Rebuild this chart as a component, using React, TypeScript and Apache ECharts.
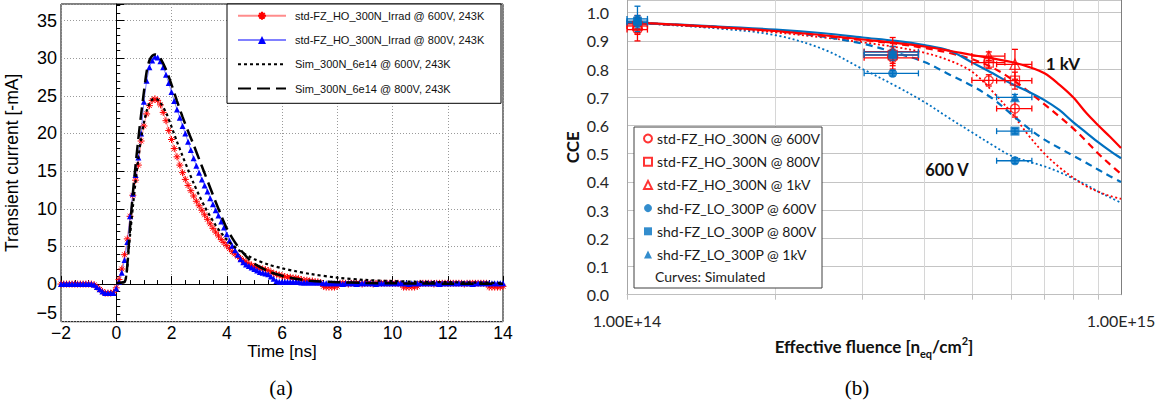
import React, { useEffect, useRef } from "react";
import * as echarts from "echarts";

// ---------- Panel (a): transient current ----------
const timeMeas = [
  -2.0, -1.9, -1.8, -1.7, -1.6, -1.5, -1.4, -1.3, -1.2, -1.1,
  -1.0, -0.9, -0.8, -0.7, -0.6, -0.5, -0.4, -0.3, -0.2, -0.1,
  0.0, 0.1, 0.2, 0.3, 0.4, 0.5, 0.6, 0.7, 0.8, 0.9,
  1.0, 1.1, 1.2, 1.3, 1.4, 1.5, 1.6, 1.7, 1.8, 1.9,
  2.0, 2.1, 2.2, 2.3, 2.4, 2.5, 2.6, 2.7, 2.8, 2.9,
  3.0, 3.1, 3.2, 3.3, 3.4, 3.5, 3.6, 3.7, 3.8, 3.9,
  4.0, 4.1, 4.2, 4.3, 4.4, 4.5, 4.6, 4.7, 4.8, 4.9,
  5.0, 5.1, 5.2, 5.3, 5.4, 5.5, 5.6, 5.7, 5.8, 5.9,
  6.0, 6.1, 6.2, 6.3, 6.4, 6.5, 6.6, 6.7, 6.8, 6.9,
  7.0, 7.1, 7.2, 7.3, 7.4, 7.5, 7.6, 7.7, 7.8, 7.9,
  8.0, 8.1, 8.2, 8.3, 8.4, 8.5, 8.6, 8.7, 8.8, 8.9,
  9.0, 9.1, 9.2, 9.3, 9.4, 9.5, 9.6, 9.7, 9.8, 9.9,
  10.0, 10.1, 10.2, 10.3, 10.4, 10.5, 10.6, 10.7, 10.8, 10.9,
  11.0, 11.1, 11.2, 11.3, 11.4, 11.5, 11.6, 11.7, 11.8, 11.9,
  12.0, 12.1, 12.2, 12.3, 12.4, 12.5, 12.6, 12.7, 12.8, 12.9,
  13.0, 13.1, 13.2, 13.3, 13.4, 13.5, 13.6, 13.7, 13.8, 13.9,
  14.0,
];

const current600 = [
  0, 0, 0, 0, 0, 0, 0, 0, 0, 0,
  0, 0, -0.1, -0.4, -0.7, -1.0, -1.2, -1.2, -1.2, -1.1,
  -0.5, 0.6, 2.0, 3.9, 6.0, 9.0, 11.8, 13.8, 15.8, 19.0,
  21.0, 22.6, 23.7, 24.4, 24.6, 24.4, 23.8, 22.8, 21.7, 20.4,
  19.2, 18.0, 16.9, 15.8, 14.8, 13.9, 13.1, 12.4, 11.7, 11.0,
  10.4, 9.8, 9.2, 8.6, 8.0, 7.4, 6.9, 6.4, 5.9, 5.5,
  5.1, 4.7, 4.3, 4.0, 3.7, 3.4, 3.1, 2.9, 2.7, 2.5,
  2.3, 2.2, 2.1, 2.0, 1.9, 1.8, 1.6, 1.4, 1.3, 1.2,
  1.1, 1.0, 0.9, 0.9, 0.8, 0.8, 0.7, 0.6, 0.5, 0.5,
  0.4, 0.4, 0.3, 0.3, 0.2, -0.3, -0.4, -0.4, -0.4, -0.4,
  -0.3, 0.1, 0.1, 0.1, 0.0, 0.1, 0.1, 0.1, 0.1, 0.0,
  0.1, 0.1, 0.1, 0.0, 0.1, 0.1, 0.1, 0.1, 0.1, 0.1,
  0.1, 0.1, 0.1, 0.0, -0.4, -0.4, -0.4, -0.4, -0.4, -0.3,
  0.1, 0.1, 0.1, 0.1, 0.1, 0.0, 0.1, 0.1, 0.1, 0.1,
  0.1, 0.1, 0.1, 0.1, 0.1, 0.1, 0.0, 0.1, 0.1, 0.1,
  0.1, 0.1, 0.1, 0.1, 0.1, -0.4, -0.4, -0.4, -0.4, -0.4,
  -0.3,
];

const current800 = [
  0, 0, 0, 0, 0, 0, 0, 0, 0, 0,
  0, 0, -0.1, -0.4, -0.7, -1.0, -1.2, -1.2, -1.2, -1.2,
  -0.6, 0.3, 1.5, 3.2, 5.6, 9.0, 12.0, 14.5, 16.8, 20.0,
  24.2, 27.0, 28.8, 29.7, 30.2, 30.1, 29.6, 28.8, 27.8, 26.7,
  25.5, 24.3, 23.2, 22.1, 21.0, 20.0, 18.9, 17.8, 16.7, 15.7,
  14.8, 13.9, 13.1, 12.3, 11.4, 10.6, 9.8, 9.1, 8.3, 7.5,
  6.6, 5.8, 5.1, 4.5, 3.9, 3.3, 2.9, 2.6, 2.4, 2.2,
  2.0, 1.8, 1.6, 1.5, 1.4, 1.3, 1.0, 0.7, 0.4, 0.3,
  0.3, 0.3, 0.3, 0.3, 0.3, 0.3, 0.3, 0.2, 0.2, 0.2,
  0.2, 0.2, 0.2, 0.2, 0.2, 0.1, 0.1, 0.1, 0.1, 0.1,
  0.1, 0.1, 0.0, 0.1, 0.1, 0.1, 0.1, 0.0, 0.1, 0.1,
  0.1, 0.1, 0.1, 0.1, 0.0, 0.1, 0.1, 0.1, 0.1, 0.1,
  0.1, 0.1, 0.1, 0.1, 0.1, 0.1, 0.0, 0.1, 0.1, 0.1,
  0.1, 0.1, 0.1, 0.1, 0.1, 0.1, 0.1, 0.0, 0.1, 0.1,
  0.1, 0.1, 0.1, 0.1, 0.1, 0.1, 0.1, 0.1, 0.1, 0.0,
  0.1, 0.1, 0.1, 0.1, 0.1, 0.1, 0.1, 0.1, 0.1, 0.1,
  0.1,
];

const timeSim = [
  0, 0.1, 0.2, 0.3, 0.35, 0.4, 0.45, 0.5, 0.6, 0.7, 0.8, 0.9, 1.0, 1.1, 1.2, 1.3, 1.4,
  1.5, 1.6, 1.8, 2.0, 2.2, 2.4, 2.6, 2.8, 3.0, 3.2, 3.4, 3.6, 3.8, 4.0, 4.2, 4.4, 4.6,
  4.8, 5.0, 5.5, 6.0, 6.5, 7.0, 8.0, 9.0, 10, 11, 12, 13, 14,
];
const sim600 = [
  0.1, 0.15, 0.2, 0.3, 0.8, 2.2, 4.5, 6.5, 10.2, 13.6, 16.7, 19.3, 21.4, 23.0, 24.0, 24.5, 24.6,
  24.5, 24.1, 22.8, 20.9, 18.9, 17.0, 15.2, 13.4, 11.8, 10.3, 9.0, 7.8, 6.8, 5.9, 5.2, 4.6, 4.1,
  3.7, 3.3, 2.6, 2.1, 1.7, 1.35, 0.85, 0.55, 0.4, 0.3, 0.25, 0.2, 0.15,
];
const sim800 = [
  0.1, 0.15, 0.2, 0.3, 0.8, 2.5, 5.0, 7.5, 12.0, 15.8, 19.3, 22.5, 25.5, 28.2, 29.7, 30.3, 30.5,
  30.4, 30.0, 28.5, 26.5, 24.3, 22.2, 20.3, 18.5, 16.6, 14.7, 12.8, 10.9, 9.1, 7.4, 6.1, 5.0, 4.1,
  3.3, 2.7, 1.7, 1.1, 0.7, 0.45, 0.25, 0.15, 0.1, 0.08, 0.05, 0.05, 0.05,
];

const namesA = [
  "std-FZ_HO_300N_Irrad @ 600V, 243K",
  "std-FZ_HO_300N_Irrad @ 800V, 243K",
  "Sim_300N_6e14 @ 600V, 243K",
  "Sim_300N_6e14 @ 800V, 243K",
];

// ---------- Panel (b): CCE vs fluence ----------
const fluenceStd = [1.05e14, 3.45e14, 5.4e14, 6.1e14];
const fluenceStdLo = [1.0e14, 3.02e14, 4.99e14, 5.6e14];
const fluenceStdHi = [1.1e14, 3.89e14, 5.82e14, 6.6e14];
const cceStd600 = [0.94, 0.84, 0.76, 0.66];
const errStd600 = [0.04, 0.04, 0.02, 0.03];
const cceStd800 = [0.953, 0.85, 0.823, 0.759];
const errStd800 = [0.03, 0.03, 0.02, 0.03];
const cceStd1k = [0.96, 0.862, 0.846, 0.817];
const errStd1k = [0.03, 0.05, 0.015, 0.053];

const fluenceShd = [1.05e14, 3.45e14, 6.1e14];
const fluenceShdLo = [1.0e14, 3.02e14, 5.6e14];
const fluenceShdHi = [1.1e14, 3.89e14, 6.6e14];
const cceShd600 = [0.965, 0.785, 0.475];
const errShd600 = [0.02, 0.01, 0.01];
const cceShd800 = [0.97, 0.85, 0.58];
const errShd800 = [0.02, 0.02, 0.01];
const cceShd1k = [0.978, 0.86, 0.7];
const errShd1k = [0.045, 0.02, 0.01];

const fluenceSim = [
  1e14, 1.5e14, 2e14, 2.5e14, 3e14, 3.5e14, 4e14, 4.5e14, 5e14, 5.5e14,
  6e14, 6.5e14, 7e14, 7.5e14, 8e14, 8.5e14, 9e14, 9.5e14, 1e15,
];
const simStd1k = [0.967, 0.95, 0.935, 0.92, 0.905, 0.893, 0.88, 0.865, 0.85, 0.838, 0.825, 0.808, 0.785, 0.745, 0.7, 0.645, 0.6, 0.56, 0.52];
const simShd1k = [0.965, 0.952, 0.94, 0.927, 0.912, 0.9, 0.885, 0.865, 0.823, 0.785, 0.748, 0.72, 0.69, 0.655, 0.612, 0.575, 0.54, 0.51, 0.484];
const simStd800 = [0.965, 0.95, 0.935, 0.918, 0.903, 0.89, 0.875, 0.857, 0.835, 0.805, 0.765, 0.72, 0.675, 0.632, 0.59, 0.545, 0.5, 0.462, 0.428];
const simShd800 = [0.965, 0.95, 0.935, 0.915, 0.89, 0.858, 0.825, 0.78, 0.74, 0.695, 0.64, 0.59, 0.55, 0.52, 0.493, 0.468, 0.443, 0.42, 0.4];
const simStd600 = [0.965, 0.948, 0.93, 0.912, 0.895, 0.878, 0.858, 0.83, 0.79, 0.72, 0.645, 0.565, 0.5, 0.452, 0.415, 0.385, 0.365, 0.35, 0.34];
const simShd600 = [0.965, 0.945, 0.92, 0.87, 0.8, 0.74, 0.683, 0.625, 0.575, 0.53, 0.492, 0.472, 0.455, 0.435, 0.412, 0.39, 0.365, 0.345, 0.326];

const fluenceGridValues = [1e14, 2e14, 3e14, 4e14, 5e14, 6e14, 7e14, 8e14, 9e14, 1e15];

const namesB = [
  "std-FZ_HO_300N @ 600V",
  "std-FZ_HO_300N @ 800V",
  "std-FZ_HO_300N @ 1kV",
  "shd-FZ_LO_300P @ 600V",
  "shd-FZ_LO_300P @ 800V",
  "shd-FZ_LO_300P @ 1kV",
];

const RED = "#ff0000";
const BLUE = "#0070c0";
const ASTERISK = "path://M5,0L5,10M0,5L10,5M1.6,1.6L8.4,8.4M1.6,8.4L8.4,1.6";

function zip(xs: number[], ys: number[]) {
  return xs.map((x, i) => [x, ys[i]]);
}

function errRows(xs: number[], lo: number[], hi: number[], ys: number[], e: number[]) {
  return xs.map((x, i) => [x, ys[i], lo[i], hi[i], ys[i] - e[i], ys[i] + e[i]]);
}

function errorBarSeries(color: string, data: number[][]) {
  return {
    type: "custom",
    xAxisIndex: 1,
    yAxisIndex: 1,
    z: 3,
    silent: true,
    encode: { x: [0, 2, 3], y: [1, 4, 5] },
    data,
    renderItem: (_params: any, api: any) => {
      const x = api.value(0);
      const y = api.value(1);
      const c = api.coord([x, y]);
      const l = api.coord([api.value(2), y]);
      const r = api.coord([api.value(3), y]);
      const b = api.coord([x, api.value(4)]);
      const t = api.coord([x, api.value(5)]);
      const style = { stroke: color, lineWidth: 1.3 };
      const cap = 3;
      return {
        type: "group",
        children: [
          { type: "line", shape: { x1: l[0], y1: c[1], x2: r[0], y2: c[1] }, style },
          { type: "line", shape: { x1: l[0], y1: c[1] - cap, x2: l[0], y2: c[1] + cap }, style },
          { type: "line", shape: { x1: r[0], y1: c[1] - cap, x2: r[0], y2: c[1] + cap }, style },
          { type: "line", shape: { x1: c[0], y1: t[1], x2: c[0], y2: b[1] }, style },
          { type: "line", shape: { x1: c[0] - cap, y1: t[1], x2: c[0] + cap, y2: t[1] }, style },
          { type: "line", shape: { x1: c[0] - cap, y1: b[1], x2: c[0] + cap, y2: b[1] }, style },
        ],
      };
    },
  };
}

function simLine(data: number[], color: string, kind: "solid" | "dashed" | "dotted") {
  return {
    type: "line",
    xAxisIndex: 1,
    yAxisIndex: 1,
    data: zip(fluenceSim, data),
    symbol: "none",
    showSymbol: false,
    smooth: 0.35,
    silent: true,
    z: 2,
    lineStyle: {
      color,
      width: kind === "dotted" ? 1.8 : 2.2,
      type: kind === "solid" ? "solid" : kind === "dashed" ? [7, 5] : [2, 2.5],
    },
  };
}

function scatterB(name: string, xs: number[], ys: number[], symbol: string, color: string, hollow: boolean, size: number) {
  return {
    name,
    type: "scatter",
    xAxisIndex: 1,
    yAxisIndex: 1,
    data: zip(xs, ys),
    symbol,
    symbolSize: size,
    z: 4,
    itemStyle: hollow
      ? { color: "rgba(255,255,255,0)", borderColor: color, borderWidth: 1.3 }
      : { color, borderColor: color, borderWidth: 0 },
  };
}

function buildOption() {
  const minus = (v: number) => String(v).replace("-", "\u2212");
  const fontA = "Liberation Sans";
  const fontB = "Lato";
  return {
    animation: false,
    backgroundColor: "#ffffff",
    grid: [
      { left: 61, right: 668, top: 4, bottom: 85.3, show: true, borderColor: "#000", borderWidth: 1, backgroundColor: "transparent", outerBoundsMode: "none" },
      { left: 627, right: 50, top: 0, bottom: 112.3, outerBoundsMode: "none" },
    ],
    xAxis: [
      {
        gridIndex: 0,
        type: "value",
        min: -2,
        max: 14,
        interval: 2,
        axisLine: { show: true, lineStyle: { color: "#000", width: 1 } },
        axisTick: { show: true, inside: true, length: 8, lineStyle: { color: "#000" } },
        minorTick: { show: true, splitNumber: 4, length: 4, lineStyle: { color: "#000" } },
        axisLabel: { fontFamily: fontA, fontSize: 17.5, lineHeight: 17, color: "#000", margin: 3, formatter: minus, showMinLabel: true, showMaxLabel: true },
        splitLine: { show: true, lineStyle: { type: [1, 2], color: "#9a9a9a", width: 1 } },
        name: "Time [ns]",
        nameLocation: "middle",
        nameGap: 21.5,
        nameMoveOverlap: false,
        nameTextStyle: { fontFamily: fontA, fontSize: 17, color: "#000", lineHeight: 17 },
      },
      {
        gridIndex: 1,
        type: "log",
        logBase: 10,
        min: 1e14,
        max: 1e15,
        axisLine: { show: true, lineStyle: { color: "#bfbfbf", width: 1 } },
        axisTick: { show: true, inside: false, length: 5, customValues: fluenceGridValues, lineStyle: { color: "#bfbfbf" } },
        axisLabel: {
          fontFamily: fontB,
          fontSize: 16,
          color: "#262626",
          margin: 18,
          showMinLabel: true,
          showMaxLabel: true,
          formatter: (v: number) => v.toExponential(2).toUpperCase(),
        },
        splitLine: { show: true, lineStyle: { color: "#d6d6d6", width: 1 } },
        name: "{a|Effective fluence [n}{s|eq}{a|/cm}{p|2}{a|]}",
        nameLocation: "middle",
        nameGap: 40,
        nameMoveOverlap: false,
        nameTextStyle: {
          rich: {
            a: { fontFamily: fontB, fontSize: 17, fontWeight: "bold", color: "#111", lineHeight: 24, verticalAlign: "middle" },
            s: { fontFamily: fontB, fontSize: 11, fontWeight: "bold", color: "#111", verticalAlign: "bottom", lineHeight: 24 },
            p: { fontFamily: fontB, fontSize: 11, fontWeight: "bold", color: "#111", verticalAlign: "top", lineHeight: 24 },
          },
        },
      },
    ],
    yAxis: [
      {
        gridIndex: 0,
        type: "value",
        min: -5,
        max: 37.2,
        interval: 5,
        axisLine: { show: true, lineStyle: { color: "#000", width: 1 } },
        axisTick: { show: true, inside: true, length: 8, lineStyle: { color: "#000" } },
        minorTick: { show: true, splitNumber: 5, length: 4, lineStyle: { color: "#000" } },
        axisLabel: {
          fontFamily: fontA,
          fontSize: 18,
          color: "#000",
          margin: 4,
          verticalAlignMinLabel: "bottom",
          formatter: (v: number) => (Math.abs(v % 5) > 1e-6 ? "" : minus(v)),
        },
        splitLine: { show: true, lineStyle: { type: [1, 2], color: "#9a9a9a", width: 1 } },
        name: "Transient current [-mA]",
        nameLocation: "middle",
        nameGap: 40,
        nameMoveOverlap: false,
        nameTextStyle: { fontFamily: fontA, fontSize: 17.5, color: "#000" },
      },
      {
        gridIndex: 1,
        type: "value",
        min: 0,
        max: 1.045,
        interval: 0.1,
        axisLine: { show: true, lineStyle: { color: "#a6a6a6", width: 1 } },
        axisTick: { show: false },
        axisLabel: {
          fontFamily: fontB,
          fontSize: 16,
          color: "#262626",
          margin: 18,
          formatter: (v: number) => (v > 1.001 ? "" : v.toFixed(1)),
        },
        splitLine: { show: true, lineStyle: { color: "#c4c4c4", width: 1.2 } },
        name: "CCE",
        nameLocation: "middle",
        nameGap: 46,
        nameMoveOverlap: false,
        nameTextStyle: { fontFamily: fontB, fontSize: 17, fontWeight: "bold", color: "#111" },
      },
      {
        gridIndex: 1,
        type: "value",
        position: "right",
        min: 0,
        max: 1.045,
        axisLine: { show: true, lineStyle: { color: "#7f7f7f", width: 1 } },
        axisTick: { show: false },
        axisLabel: { show: false },
        splitLine: { show: false },
      },
    ],
    legend: [
      {
        data: [
          { name: namesA[0] },
          { name: namesA[1] },
          { name: namesA[2], itemStyle: { color: "rgba(0,0,0,0)", borderColor: "rgba(0,0,0,0)" } },
          { name: namesA[3], itemStyle: { color: "rgba(0,0,0,0)", borderColor: "rgba(0,0,0,0)" } },
        ],
        orient: "vertical",
        left: 237,
        top: 10.2,
        padding: 0,
        itemWidth: 48,
        itemHeight: 10,
        itemGap: 13.3,
        selectedMode: false,
        z: 10,
        textStyle: { fontFamily: fontA, fontSize: 11, color: "#111", padding: [0, 0, 0, 4] },
      },
      {
        data: namesB,
        orient: "vertical",
        left: 643,
        top: 131.5,
        padding: 0,
        itemWidth: 8,
        itemHeight: 8,
        itemGap: 9.2,
        selectedMode: false,
        z: 10,
        textStyle: { fontFamily: fontB, fontSize: 14, color: "#1a1a1a" },
      },
    ],
    graphic: [
      { type: "rect", z: 5, shape: { x: 227, y: 4, width: 274, height: 99.3 }, style: { fill: "#fff", stroke: "#000", lineWidth: 1 } },
      { type: "rect", z: 5, shape: { x: 634, y: 127, width: 188, height: 161 }, style: { fill: "#fff", stroke: "#404040", lineWidth: 1 } },
      { type: "text", z: 10, x: 655, y: 276, style: { text: "Curves: Simulated", fontFamily: fontB, fontSize: 14, fill: "#1a1a1a", verticalAlign: "middle" } },
      { type: "text", z: 10, x: 1063, y: 63, style: { text: "1 kV", fontFamily: fontB, fontSize: 17, fontWeight: "bold", fill: "#111", align: "center", verticalAlign: "middle" } },
      { type: "text", z: 10, x: 947, y: 170, style: { text: "600 V", fontFamily: fontB, fontSize: 16.5, fontWeight: "bold", fill: "#111", align: "center", verticalAlign: "middle" } },
      { type: "text", z: 10, x: 281, y: 388, style: { text: "(a)", fontFamily: "Liberation Serif", fontSize: 21, fill: "#000", align: "center", verticalAlign: "middle" } },
      { type: "text", z: 10, x: 857, y: 388, style: { text: "(b)", fontFamily: "Liberation Serif", fontSize: 21, fill: "#000", align: "center", verticalAlign: "middle" } },
    ],
    series: [
      {
        name: namesA[0],
        type: "line",
        xAxisIndex: 0,
        yAxisIndex: 0,
        data: zip(timeMeas, current600),
        symbol: ASTERISK,
        symbolSize: 7,
        showSymbol: true,
        z: 3,
        itemStyle: { color: RED, borderColor: RED, borderWidth: 1 },
        lineStyle: { color: "#ff8c8c", width: 1 },
      },
      {
        name: namesA[1],
        type: "line",
        xAxisIndex: 0,
        yAxisIndex: 0,
        data: zip(timeMeas, current800),
        symbol: "triangle",
        symbolSize: 6,
        showSymbol: true,
        z: 3,
        itemStyle: { color: "#0000ff" },
        lineStyle: { color: "#8080ff", width: 1 },
      },
      {
        name: namesA[2],
        type: "line",
        xAxisIndex: 0,
        yAxisIndex: 0,
        data: zip(timeSim, sim600),
        symbol: "none",
        smooth: 0.3,
        z: 4,
        lineStyle: { color: "#000", width: 2.2, type: [3, 3] },
      },
      {
        name: namesA[3],
        type: "line",
        xAxisIndex: 0,
        yAxisIndex: 0,
        data: zip(timeSim, sim800),
        symbol: "none",
        smooth: 0.3,
        z: 4,
        lineStyle: { color: "#000", width: 2.5, type: [13, 6] },
      },
      simLine(simShd600, BLUE, "dotted"),
      simLine(simStd600, RED, "dotted"),
      simLine(simShd800, BLUE, "dashed"),
      simLine(simStd800, RED, "dashed"),
      simLine(simShd1k, BLUE, "solid"),
      simLine(simStd1k, RED, "solid"),
      errorBarSeries(RED, [
        ...errRows(fluenceStd, fluenceStdLo, fluenceStdHi, cceStd600, errStd600),
        ...errRows(fluenceStd, fluenceStdLo, fluenceStdHi, cceStd800, errStd800),
        ...errRows(fluenceStd, fluenceStdLo, fluenceStdHi, cceStd1k, errStd1k),
      ]),
      errorBarSeries(BLUE, [
        ...errRows(fluenceShd, fluenceShdLo, fluenceShdHi, cceShd600, errShd600),
        ...errRows(fluenceShd, fluenceShdLo, fluenceShdHi, cceShd800, errShd800),
        ...errRows(fluenceShd, fluenceShdLo, fluenceShdHi, cceShd1k, errShd1k),
      ]),
      scatterB(namesB[0], fluenceStd, cceStd600, "circle", RED, true, 9),
      scatterB(namesB[1], fluenceStd, cceStd800, "rect", RED, true, 9),
      scatterB(namesB[2], fluenceStd, cceStd1k, "triangle", RED, true, 10),
      scatterB(namesB[3], fluenceShd, cceShd600, "circle", BLUE, false, 9),
      scatterB(namesB[4], fluenceShd, cceShd800, "rect", BLUE, false, 9),
      scatterB(namesB[5], fluenceShd, cceShd1k, "triangle", BLUE, false, 10),
    ],
  };
}

export default function App() {
  const ref = useRef<HTMLDivElement>(null);
  useEffect(() => {
    if (!ref.current) return;
    const chart = echarts.init(ref.current, undefined, { renderer: "svg" });
    chart.setOption(buildOption() as any);
    return () => chart.dispose();
  }, []);
  return (
    <div
      ref={ref}
      style={{ position: "fixed", left: 0, top: 0, width: 1171, height: 407, background: "#fff" }}
    />
  );
}
